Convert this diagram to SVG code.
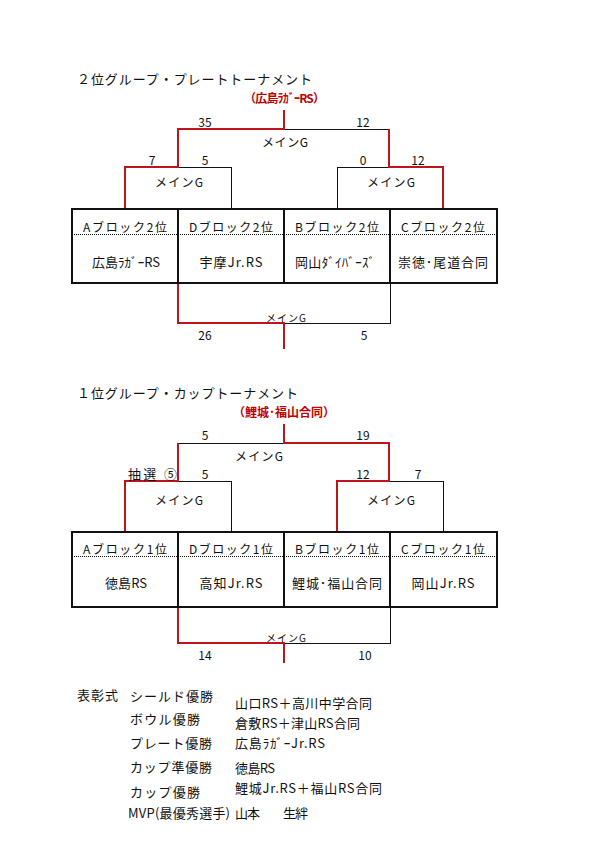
<svg xmlns="http://www.w3.org/2000/svg" width="595" height="841" viewBox="0 0 595 841">
<style>
text{font-family:"Noto Sans CJK JP","Noto Sans",sans-serif;fill:#111;}
.t{font-size:13px;}
.s{font-size:12px;text-anchor:middle;}
.m{font-size:12px;text-anchor:middle;}
.sm{font-size:10px;text-anchor:middle;}
.win{font-size:12px;font-weight:bold;fill:#C00000;text-anchor:middle;}
.h{font-size:12px;text-anchor:middle;}
.n{font-size:13px;text-anchor:middle;}
.l{font-size:13px;}
.r{fill:none;stroke:#C0141C;stroke-width:2;}
.k{fill:none;stroke:#111;stroke-width:1;shape-rendering:crispEdges;}
.tb{fill:none;stroke:#111;stroke-width:2;}
.dot{stroke:#111;stroke-width:1;stroke-dasharray:1 1;shape-rendering:crispEdges;}
</style>
<rect width="595" height="841" fill="#fff"/>

<!-- Section 1 -->
<g id="title1">
<text class="t" x="77" y="84" textLength="235" lengthAdjust="spacing">２位グループ・プレートトーナメント</text>
<text class="win" x="284.5" y="103" textLength="81" lengthAdjust="spacing">（広島ﾗｶﾞｰRS）</text>
</g>

<g id="connectors1">
<path class="k" d="M284,129 H389"/>
<path class="k" d="M178,167 H231 V209"/>
<path class="k" d="M389,167 H337 V209"/>
<path class="k" d="M284,323 H390 V283"/>
<path class="r" d="M284,110 V129 H178 V167 H125 V209"/>
<path class="r" d="M389,129 V167 H443 V209"/>
<path class="r" d="M178,283 V323 H284 V349"/>
</g>

<g id="labels1">
<text class="s" x="205" y="127">35</text>
<text class="s" x="363" y="127">12</text>
<text class="m" x="285" y="147" textLength="46" lengthAdjust="spacing">メインG</text>
<text class="s" x="152" y="165">7</text>
<text class="s" x="205" y="165">5</text>
<text class="s" x="363" y="165">0</text>
<text class="s" x="418" y="165">12</text>
<text class="m" x="179" y="187" textLength="48" lengthAdjust="spacing">メインG</text>
<text class="m" x="391" y="187" textLength="48" lengthAdjust="spacing">メインG</text>
<text class="sm" x="286" y="322" textLength="40" lengthAdjust="spacing">メインG</text>
<text class="s" x="205" y="340">26</text>
<text class="s" x="364" y="340">5</text>
</g>

<g id="table1">
<rect class="tb" x="72" y="209" width="425" height="74"/>
<line class="dot" x1="72" y1="234" x2="497" y2="234"/>
<line class="tb" x1="178" y1="209" x2="178" y2="283"/>
<line class="tb" x1="284" y1="209" x2="284" y2="283"/>
<line class="tb" x1="390" y1="209" x2="390" y2="283"/>
</g>
<g id="t1a"><text class="h" x="125" y="232" textLength="84" lengthAdjust="spacing">Aブロック2位</text><text class="n" x="126" y="267" textLength="68" lengthAdjust="spacing">広島ﾗｶﾞｰRS</text></g>
<g id="t1d"><text class="h" x="231" y="232" textLength="84" lengthAdjust="spacing">Dブロック2位</text><text class="n" x="231" y="267" textLength="63" lengthAdjust="spacing">宇摩Jr.RS</text></g>
<g id="t1b"><text class="h" x="337" y="232" textLength="84" lengthAdjust="spacing">Bブロック2位</text><text class="n" x="335" y="267" textLength="80" lengthAdjust="spacing">岡山ﾀﾞｲﾊﾞｰｽﾞ</text></g>
<g id="t1c"><text class="h" x="443" y="232" textLength="84" lengthAdjust="spacing">Cブロック2位</text><text class="n" x="443" y="267" textLength="90" lengthAdjust="spacing">崇徳･尾道合同</text></g>

<!-- Section 2 -->
<g id="title2">
<text class="t" x="77" y="398" textLength="221" lengthAdjust="spacing">１位グループ・カップトーナメント</text>
<text class="win" x="284" y="417" textLength="102" lengthAdjust="spacing">（鯉城･福山合同）</text>
</g>

<g id="connectors2">
<path class="k" d="M284,443 H178"/>
<path class="k" d="M178,481 H231 V532"/>
<path class="k" d="M389,481 H443 V532"/>
<path class="k" d="M284,643 H390 V607"/>
<path class="r" d="M284,424 V443 H389 V481 H337 V532"/>
<path class="r" d="M178,443 V481 H125 V532"/>
<path class="r" d="M178,607 V643 H284 V663"/>
</g>

<g id="labels2">
<text class="s" x="205" y="440">5</text>
<text class="s" x="363" y="440">19</text>
<text class="m" x="259" y="461" textLength="48" lengthAdjust="spacing">メインG</text>
<text class="l" x="128" y="479" font-size="12" textLength="49" lengthAdjust="spacing">抽選 ⑤</text>
<text class="s" x="205" y="479">5</text>
<text class="s" x="363" y="479">12</text>
<text class="s" x="418" y="479">7</text>
<text class="m" x="179" y="505" textLength="48" lengthAdjust="spacing">メインG</text>
<text class="m" x="391" y="505" textLength="48" lengthAdjust="spacing">メインG</text>
<text class="sm" x="286" y="642" textLength="40" lengthAdjust="spacing">メインG</text>
<text class="s" x="205" y="660">14</text>
<text class="s" x="365" y="660">10</text>
</g>

<g id="table2">
<rect class="tb" x="72" y="532" width="425" height="75"/>
<line class="dot" x1="72" y1="556" x2="497" y2="556"/>
<line class="tb" x1="178" y1="532" x2="178" y2="607"/>
<line class="tb" x1="284" y1="532" x2="284" y2="607"/>
<line class="tb" x1="390" y1="532" x2="390" y2="607"/>
</g>
<g id="t2a"><text class="h" x="125" y="554" textLength="84" lengthAdjust="spacing">Aブロック1位</text><text class="n" x="126" y="588" textLength="42" lengthAdjust="spacing">徳島RS</text></g>
<g id="t2d"><text class="h" x="231" y="554" textLength="84" lengthAdjust="spacing">Dブロック1位</text><text class="n" x="231" y="588" textLength="63" lengthAdjust="spacing">高知Jr.RS</text></g>
<g id="t2b"><text class="h" x="337" y="554" textLength="84" lengthAdjust="spacing">Bブロック1位</text><text class="n" x="337" y="588" textLength="90" lengthAdjust="spacing">鯉城･福山合同</text></g>
<g id="t2c"><text class="h" x="443" y="554" textLength="84" lengthAdjust="spacing">Cブロック1位</text><text class="n" x="443" y="588" textLength="63" lengthAdjust="spacing">岡山Jr.RS</text></g>

<!-- Awards -->
<g id="awards">
<text class="l" x="77" y="700" textLength="41" lengthAdjust="spacing">表彰式</text>
<text class="l" x="130" y="701" textLength="83" lengthAdjust="spacing">シールド優勝</text>
<text class="l" x="235" y="708" textLength="137" lengthAdjust="spacing">山口RS＋高川中学合同</text>
<text class="l" x="130" y="724" textLength="70" lengthAdjust="spacing">ボウル優勝</text>
<text class="l" x="235" y="728" textLength="125" lengthAdjust="spacing">倉敷RS＋津山RS合同</text>
<text class="l" x="130" y="748" textLength="82" lengthAdjust="spacing">プレート優勝</text>
<text class="l" x="235" y="748" textLength="90" lengthAdjust="spacing">広島ﾗｶﾞｰJr.RS</text>
<text class="l" x="130" y="772" textLength="82" lengthAdjust="spacing">カップ準優勝</text>
<text class="l" x="235" y="773" textLength="40" lengthAdjust="spacing">徳島RS</text>
<text class="l" x="130" y="797" textLength="70" lengthAdjust="spacing">カップ優勝</text>
<text class="l" x="235" y="793" textLength="147" lengthAdjust="spacing">鯉城Jr.RS＋福山RS合同</text>
<text class="l" x="128" y="818" textLength="102" lengthAdjust="spacing">MVP(最優秀選手)</text>
<text class="l" x="235" y="818" textLength="25" lengthAdjust="spacing">山本</text>
<text class="l" x="283" y="818" textLength="25" lengthAdjust="spacing">生絆</text>
</g>
</svg>
